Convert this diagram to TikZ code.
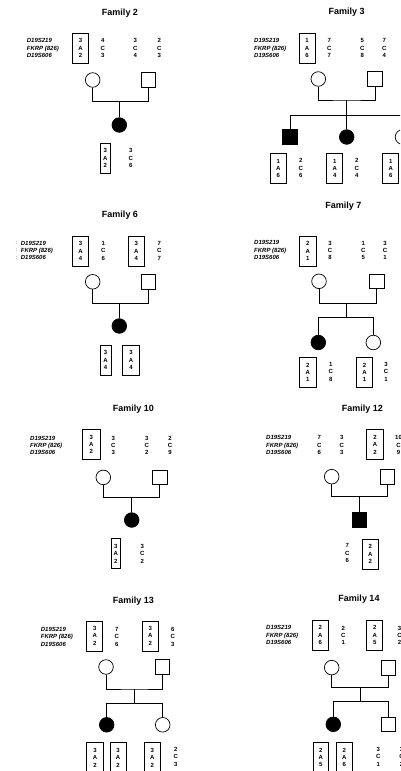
\documentclass[tikz,border=0pt]{standalone}
\usepackage{fontspec}
\setmainfont{Liberation Sans}
\newcommand\hapfont{\fontsize{6bp}{7.4bp}\selectfont\bfseries}
\newcommand\locfont{\fontsize{6bp}{7.4bp}\selectfont\bfseries\itshape}
\newcommand\titfont{\fontsize{9bp}{11bp}\selectfont\bfseries}
\begin{document}
\begin{tikzpicture}[x=1bp,y=-1bp,
  fem/.style={circle,draw,minimum size=14.6bp,inner sep=0,line width=0.7bp},
  mal/.style={rectangle,draw,minimum size=14.6bp,inner sep=0,line width=0.7bp},
  aff/.style={fill=black},
  hcol/.style={inner sep=0,align=center,font=\hapfont},
  hb/.style={hcol,draw,line width=0.6bp,minimum height=30bp,minimum width=#1},
  locus/.style={anchor=west,inner sep=0,align=left,font=\locfont},
  famtitle/.style={font=\titfont,inner sep=0},
  link/.style={line width=0.8bp}]
\path[use as bounding box] (0,0) rectangle (400,771);
\clip (0,0) rectangle (400,771);
\fill[white] (0,0) rectangle (400,771);

% ---------------- Family 2
\node[famtitle] (f2t) at (120,13.3) {Family 2};
\node[locus] (f2l) at (26.7,48.3) {D19S219\\FKRP (826)\\D19S606};
\node[hb=16.4] (f2h1) at (80.5,48.3) {3\\A\\2};
\node[hcol] (f2h2) at (102.7,48.3) {4\\C\\3};
\node[hcol] (f2h3) at (135.3,48.3) {3\\C\\4};
\node[hcol] (f2h4) at (159.3,48.3) {2\\C\\3};
\node[fem] (f2mo) at (92.7,80) {};
\node[mal] (f2fa) at (148.5,80) {};
\coordinate (f2mar) at (119.3,101.7);
\node[fem,aff] (f2c1) at (119.3,125) {};
\draw[link] (f2mo.south) |- (f2mar) -| (f2fa.south);
\draw[link] (f2mar) -- (f2c1.north);
\node[hb=10.7] (f2k1) at (105.3,158.3) {3\\A\\2};
\node[hcol] (f2k2) at (130.7,158.3) {3\\C\\6};

% ---------------- Family 3
\node[famtitle] (f3t) at (346.7,12.3) {Family 3};
\node[locus] (f3l) at (254,48) {D19S219\\FKRP (826)\\D19S606};
\node[hb=16] (f3h1) at (307,48) {1\\A\\6};
\node[hcol] (f3h2) at (329.3,48) {7\\C\\7};
\node[hcol] (f3h3) at (362.3,48) {5\\C\\8};
\node[hcol] (f3h4) at (384.3,48) {7\\C\\4};
\node[fem] (f3mo) at (318.3,79) {};
\node[mal] (f3fa) at (375,79) {};
\coordinate (f3mar) at (346.7,100);
\coordinate (f3sib) at (346.7,115);
\node[mal,aff] (f3c1) at (290,137) {};
\node[fem,aff] (f3c2) at (346.7,137) {};
\node[fem] (f3c3) at (402.5,137) {};
\draw[link] (f3mo.south) |- (f3mar) -| (f3fa.south);
\draw[link] (f3mar) -- (f3sib) -- (f3c2.north);
\draw[link] (f3c1.north) -- (f3c1.north |- f3sib) -- (f3c3.north |- f3sib) -- (f3c3.north);
\node[hb=16.7] (f3k1) at (278.3,168.5) {1\\A\\6};
\node[hcol] (f3k2) at (300.7,168.3) {2\\C\\6};
\node[hb=16] (f3k3) at (334.7,168.5) {1\\A\\4};
\node[hcol] (f3k4) at (356.7,168.3) {2\\C\\4};
\node[hb=16] (f3k5) at (390.7,168.5) {1\\A\\6};

% ---------------- Family 6
\node[famtitle] (f6t) at (120,215) {Family 6};
\node[locus,font=\fontsize{5bp}{7.4bp}\selectfont] (f6d) at (15.5,250.5) {:\\:\\:};
\node[locus] (f6l) at (20.7,250.5) {D19S219\\FKRP (826)\\D19S606};
\node[hb=16.4] (f6h1) at (80.5,251) {3\\A\\4};
\node[hcol] (f6h2) at (103.3,250.7) {1\\C\\6};
\node[hb=15.7] (f6h3) at (136.2,251) {3\\A\\4};
\node[hcol] (f6h4) at (159.3,250.7) {7\\C\\7};
\node[fem] (f6mo) at (92.7,281.8) {};
\node[mal] (f6fa) at (148.3,281.8) {};
\coordinate (f6mar) at (119.3,303.3);
\node[fem,aff] (f6c1) at (119.3,326) {};
\draw[link] (f6mo.south) |- (f6mar) -| (f6fa.south);
\draw[link] (f6mar) -- (f6c1.north);
\node[hb=11] (f6k1) at (105.5,360) {3\\A\\4};
\node[hb=16.7] (f6k2) at (131,360) {3\\A\\4};

% ---------------- Family 7
\node[famtitle] (f7t) at (343.3,206) {Family 7};
\node[locus] (f7l) at (254,250) {D19S219\\FKRP (826)\\D19S606};
\node[hb=16.7] (f7h1) at (307.7,251) {2\\A\\1};
\node[hcol] (f7h2) at (330,250.5) {3\\C\\8};
\node[hcol] (f7h3) at (363.3,250.5) {1\\C\\5};
\node[hcol] (f7h4) at (385,250.5) {3\\C\\1};
\node[fem] (f7mo) at (319,281.3) {};
\node[mal] (f7fa) at (376.8,281.3) {};
\coordinate (f7mar) at (346.7,303.3);
\coordinate (f7sib) at (346.7,317.7);
\node[fem,aff] (f7c1) at (318.3,342.5) {};
\node[fem] (f7c2) at (373.3,342.5) {};
\draw[link] (f7mo.south) |- (f7mar) -| (f7fa.south);
\draw[link] (f7mar) -- (f7sib);
\draw[link] (f7c1.north) -- (f7c1.north |- f7sib) -- (f7c2.north |- f7sib) -- (f7c2.north);
\node[hb=16.7] (f7k1) at (307.7,372.5) {2\\A\\1};
\node[hcol] (f7k2) at (330.7,371.7) {1\\C\\8};
\node[hb=15.6] (f7k3) at (364.5,372.5) {2\\A\\1};
\node[hcol] (f7k4) at (386,371.7) {3\\C\\1};

% ---------------- Family 10
\node[famtitle] (f10t) at (133.3,409.3) {Family 10};
\node[locus] (f10l) at (30,445.5) {D19S219\\FKRP (826)\\D19S606};
\node[hb=17.3] (f10h1) at (91.3,444.5) {3\\A\\2};
\node[hcol] (f10h2) at (113.3,445.5) {3\\C\\3};
\node[hcol] (f10h3) at (146.7,445.5) {3\\C\\2};
\node[hcol] (f10h4) at (170,445.5) {2\\C\\9};
\node[fem] (f10mo) at (103.3,477.4) {};
\node[mal] (f10fa) at (159.8,477.4) {};
\coordinate (f10mar) at (131.7,497.7);
\node[fem,aff] (f10c1) at (131.7,520) {};
\draw[link] (f10mo.south) |- (f10mar) -| (f10fa.south);
\draw[link] (f10mar) -- (f10c1.north);
\node[hb=9.7] (f10k1) at (115.7,553.7) {3\\A\\2};
\node[hcol] (f10k2) at (142.3,553.5) {3\\C\\2};

% ---------------- Family 12
\node[famtitle] (f12t) at (362.3,409) {Family 12};
\node[locus] (f12l) at (266,445) {D19S219\\FKRP (826)\\D19S606};
\node[hcol] (f12h1) at (319.3,445) {7\\C\\6};
\node[hcol] (f12h2) at (341.7,445) {3\\C\\3};
\node[hb=16.6] (f12h3) at (375,444.7) {2\\A\\2};
\node[hcol] (f12h4) at (398.5,445) {10\\C\\9};
\node[fem] (f12mo) at (331.7,476.7) {};
\node[mal] (f12fa) at (387.2,476.7) {};
\coordinate (f12mar) at (359.3,496.7);
\node[mal,aff] (f12c1) at (359.3,520) {};
\draw[link] (f12mo.south) |- (f12mar) -| (f12fa.south);
\draw[link] (f12mar) -- (f12c1.north);
\node[hcol] (f12k1) at (347.3,553.3) {7\\C\\6};
\node[hb=16] (f12k2) at (370.3,554.2) {2\\A\\2};

% ---------------- Family 13
\node[famtitle] (f13t) at (133.3,600.7) {Family 13};
\node[locus] (f13l) at (40.7,636.7) {D19S219\\FKRP (826)\\D19S606};
\node[hb=16] (f13h1) at (94.7,635.8) {3\\A\\2};
\node[hcol] (f13h2) at (116.7,636.7) {7\\C\\6};
\node[hb=16] (f13h3) at (150.3,635.8) {3\\A\\2};
\node[hcol] (f13h4) at (172.7,636.7) {6\\C\\3};
\node[fem] (f13mo) at (106,667) {};
\node[mal] (f13fa) at (162.5,667) {};
\coordinate (f13mar) at (134.3,689);
\coordinate (f13sib) at (134.3,703.3);
\node[fem,aff] (f13c1) at (106.7,724.8) {};
\node[fem] (f13c2) at (162.7,724.8) {};
\draw[link] (f13mo.south) |- (f13mar) -| (f13fa.south);
\draw[link] (f13mar) -- (f13sib);
\draw[link] (f13c1.north) -- (f13c1.north |- f13sib) -- (f13c2.north |- f13sib) -- (f13c2.north);
\node[hb=16.6] (f13k1) at (95,757.7) {3\\A\\2};
\node[hb=16] (f13k2) at (118,757.7) {3\\A\\2};
\node[hb=16.7] (f13k3) at (152.3,757.7) {3\\A\\2};
\node[hcol] (f13k4) at (175.7,756.7) {2\\C\\3};

% ---------------- Family 14
\node[famtitle] (f14t) at (359,599.3) {Family 14};
\node[locus] (f14l) at (266,635.3) {D19S219\\FKRP (826)\\D19S606};
\node[hb=16] (f14h1) at (320.3,635.3) {2\\A\\6};
\node[hcol] (f14h2) at (343.3,635.3) {2\\C\\1};
\node[hb=16] (f14h3) at (374.7,635.3) {2\\A\\5};
\node[hcol] (f14h4) at (399.5,635.3) {3\\C\\2};
\node[fem] (f14mo) at (331.7,667.6) {};
\node[mal] (f14fa) at (388.3,667.6) {};
\coordinate (f14mar) at (360.7,687.7);
\coordinate (f14sib) at (360.7,701.7);
\node[fem,aff] (f14c1) at (333.3,724.3) {};
\node[mal] (f14c2) at (388.5,724.3) {};
\draw[link] (f14mo.south) |- (f14mar) -| (f14fa.south);
\draw[link] (f14mar) -- (f14sib);
\draw[link] (f14c1.north) -- (f14c1.north |- f14sib) -- (f14c2.north |- f14sib) -- (f14c2.north);
\node[hb=15] (f14k1) at (320.8,757.5) {2\\A\\5};
\node[hb=16.3] (f14k2) at (344.2,757.5) {2\\A\\6};
\node[hcol] (f14k3) at (378.3,756.7) {3\\C\\1};
\node[hcol] (f14k4) at (401.5,756.7) {3\\C\\2};
\end{tikzpicture}
\end{document}
